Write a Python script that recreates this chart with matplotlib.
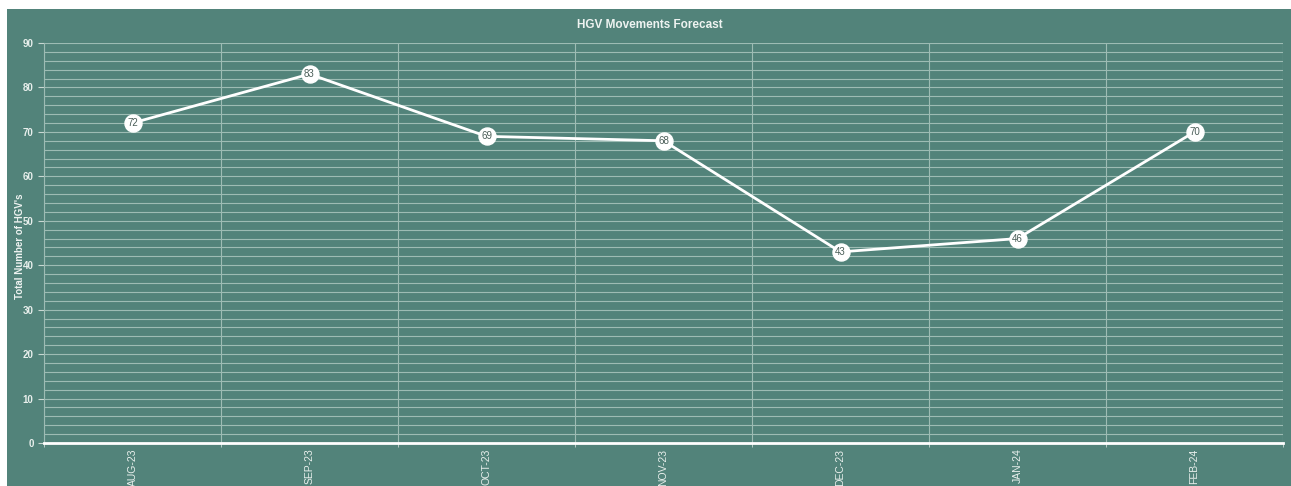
import matplotlib
matplotlib.use("Agg")
import matplotlib.pyplot as plt
from matplotlib.patches import Rectangle
from matplotlib.ticker import MultipleLocator

months = ["AUG-23", "SEP-23", "OCT-23", "NOV-23", "DEC-23", "JAN-24", "FEB-24"]
hgv = [72, 83, 69, 68, 43, 46, 70]

bg = "#52837a"
W, H = 1291, 486
plt.rcParams['font.family'] = ['Liberation Sans Narrow', 'Liberation Sans', 'DejaVu Sans']

fig = plt.figure(figsize=(W / 100, H / 100), dpi=100, facecolor="white")
fig.patches.append(Rectangle((7 / W, 0), 1, 1 - 9 / H, transform=fig.transFigure,
                             facecolor=bg, edgecolor="none", zorder=-10))

ax = fig.add_axes([44 / W, 1 - 443 / H, (1283 - 44) / W, (443 - 43) / H])
ax.set_zorder(2)
ax.set_facecolor(bg)

x = range(len(months))
ax.plot(x, hgv, color="white", lw=2, zorder=3)
ax.scatter(x, hgv, s=150, color="white", zorder=4)
for xi, v in zip(x, hgv):
    ax.text(xi, v, str(v), ha="center", va="center", fontsize=7, color="#4a5e58", zorder=5)

ax.set_xlim(-0.5, len(months) - 0.5)
ax.set_ylim(0, 90)
ax.yaxis.set_major_locator(MultipleLocator(10))
ax.yaxis.set_minor_locator(MultipleLocator(2))
ax.set_xticks(list(x))
ax.set_xticklabels(months, rotation=90, fontsize=7.5, color="#e8efec")
ax.set_xticks([i - 0.5 for i in range(len(months) + 1)], minor=True)
ax.tick_params(axis="y", which="major", labelsize=7, labelcolor="#e8efec", color="#c9d8d3", length=4)
ax.tick_params(axis="y", which="minor", length=0)
ax.tick_params(axis="x", which="major", length=0, pad=4)
ax.tick_params(axis="x", which="minor", length=3, color="#c9d8d3")
for lab in ax.get_yticklabels():
    lab.set_fontweight("bold")

ax.grid(True, axis="y", which="both", color="#9dbcb4", lw=0.8)
ax.grid(True, axis="x", which="minor", color="#9dbcb4", lw=0.8)

for s in ["top", "right"]:
    ax.spines[s].set_visible(False)
ax.spines["left"].set_color("#9dbcb4")
ax.spines["bottom"].set_color("white")
ax.spines["bottom"].set_linewidth(2)

fig.text(650 / W, 1 - 25 / H, "HGV Movements Forecast", ha="center", va="center",
         fontsize=8.5, fontweight="bold", color="#eef3f1")
fig.text(20 / W, 1 - 246 / H, "Total Number of HGV's", rotation=90, ha="center", va="center",
         fontsize=7, fontweight="bold", color="#eef3f1")

fig.savefig("out.png", dpi=100, facecolor=fig.get_facecolor())
